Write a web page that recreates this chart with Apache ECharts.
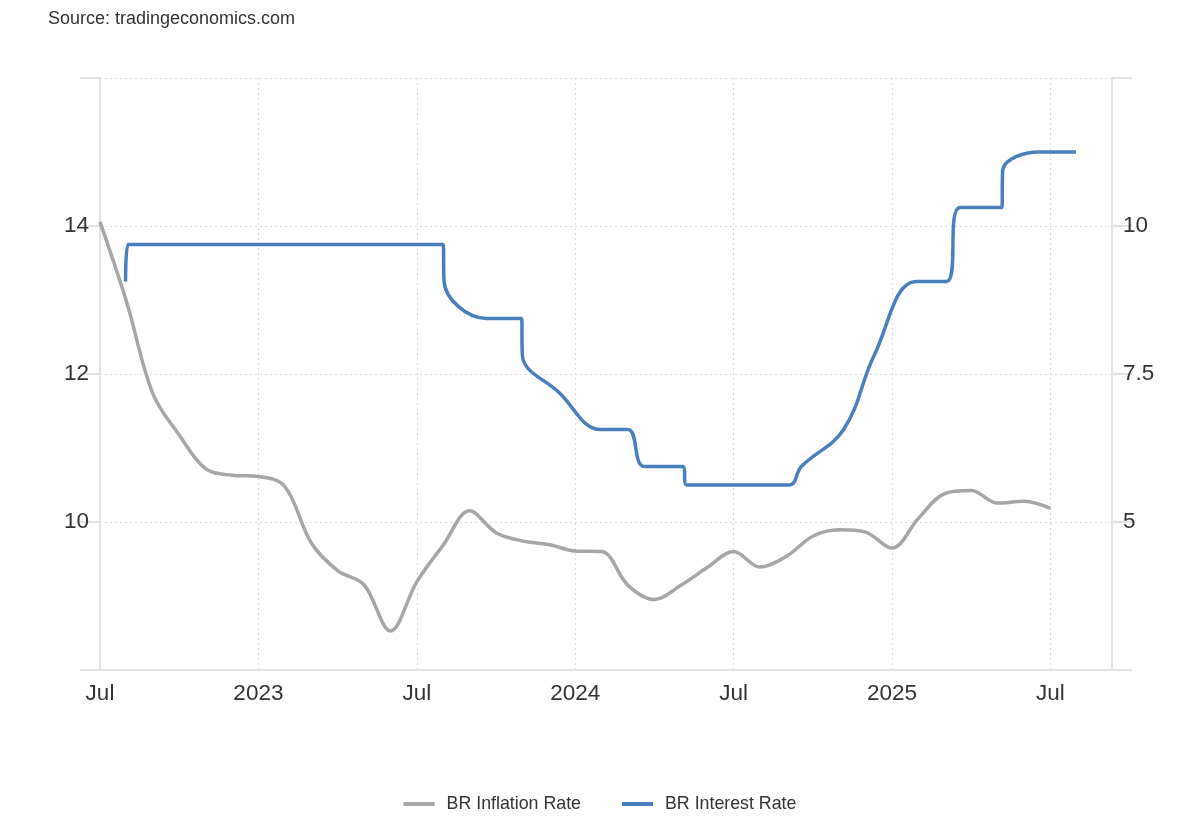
<!DOCTYPE html>
<html>
<head>
<meta charset="utf-8">
<script src="https://cdn.jsdelivr.net/npm/echarts@6/dist/echarts.min.js"></script>
<style>
html,body{margin:0;padding:0;background:#fff;}
#chart{width:1200px;height:820px;}
</style>
</head>
<body>
<div id="chart"></div>
<script>
// ---- Data ----
const inflationDates = ['2022-07-01','2022-08-01','2022-09-01','2022-10-01','2022-11-01','2022-12-01',
  '2023-01-01','2023-02-01','2023-03-01','2023-04-01','2023-05-01','2023-06-01',
  '2023-07-01','2023-08-01','2023-09-01','2023-10-01','2023-11-01','2023-12-01',
  '2024-01-01','2024-02-01','2024-03-01','2024-04-01','2024-05-01','2024-06-01',
  '2024-07-01','2024-08-01','2024-09-01','2024-10-01','2024-11-01','2024-12-01',
  '2025-01-01','2025-02-01','2025-03-01','2025-04-01','2025-05-01','2025-06-01','2025-07-01'];
const inflationValues = [10.07,8.73,7.17,6.47,5.90,5.79,
  5.77,5.60,4.65,4.18,3.94,3.16,
  3.99,4.61,5.19,4.82,4.68,4.62,
  4.51,4.50,3.93,3.69,3.93,4.23,
  4.50,4.24,4.42,4.76,4.87,4.83,
  4.56,5.06,5.48,5.53,5.32,5.35,5.23];

const rateDates = ['2022-07-31','2022-08-03','2023-08-01','2023-08-02','2023-09-20','2023-10-31',
  '2023-11-01','2023-12-13','2024-01-31','2024-03-01','2024-03-20','2024-05-03',
  '2024-05-08','2024-09-04','2024-09-18','2024-11-06','2024-12-11','2025-01-29',
  '2025-03-03','2025-03-19','2025-05-06','2025-05-07','2025-06-18','2025-07-31'];
const rateValues = [13.25,13.75,13.75,13.25,12.75,12.75,
  12.25,11.75,11.25,11.25,10.75,10.75,
  10.5,10.5,10.75,11.25,12.25,13.25,
  13.25,14.25,14.25,14.75,15,15];

const axisStart = '2022-07-01';
const axisEnd = '2025-09-11';
const leftTicks = [10, 12, 14];
const rightTicks = [5, 7.5, 10];
const monthNames = ['Jan','Feb','Mar','Apr','May','Jun','Jul','Aug','Sep','Oct','Nov','Dec'];

// x coordinate = months elapsed since axisStart (fractional by day)
const startParts = axisStart.split('-').map(Number);
function toMonths(s){
  const p = s.split('-').map(Number);
  const dim = new Date(p[0], p[1], 0).getDate();
  return (p[0]-startParts[0])*12 + (p[1]-startParts[1]) + (p[2]-1)/dim;
}
const inflationData = inflationDates.map((d,i)=>[toMonths(d), inflationValues[i]]);
const rateData = rateDates.map((d,i)=>[toMonths(d), rateValues[i]]);

const FONT = '"Liberation Sans", Arial, Helvetica, sans-serif';
const AXIS_COLOR = '#e2e2e2';

const chart = echarts.init(document.getElementById('chart'));
chart.setOption({
  animation: false,
  backgroundColor: '#fff',
  textStyle: { fontFamily: FONT },
  title: {
    text: 'Source: tradingeconomics.com',
    left: 48, top: 10, padding: 0,
    textStyle: { fontSize: 18, fontWeight: 'normal', color: '#333', fontFamily: FONT }
  },
  legend: {
    bottom: 2,
    left: 'center',
    icon: 'rect',
    itemWidth: 31,
    itemHeight: 4,
    itemGap: 41,
    textStyle: { fontSize: 17.8, color: '#333', fontFamily: FONT, padding: [0, 0, 0, 7] },
    data: ['BR Inflation Rate', 'BR Interest Rate']
  },
  grid: { left: 100, right: 88, top: 78, bottom: 150, containLabel: false },
  xAxis: {
    type: 'value',
    min: 0,
    max: toMonths(axisEnd),
    interval: 6,
    axisLine: { show: true, lineStyle: { color: AXIS_COLOR, width: 2 } },
    axisTick: { show: false },
    axisLabel: {
      fontSize: 22.5, color: '#333', margin: 12, fontFamily: FONT, hideOverlap: false,
      showMinLabel: true, showMaxLabel: true,
      formatter: function (val) {
        if (Math.abs(val - Math.round(val)) > 1e-6 || Math.round(val) % 6 !== 0) return '';
        const total = startParts[1] - 1 + Math.round(val);
        const year = startParts[0] + Math.floor(total / 12);
        const month = total % 12;
        return month === 0 ? String(year) : monthNames[month];
      }
    },
    splitLine: { show: true, lineStyle: { color: '#dcdcdc', type: [2, 3], width: 1 } }
  },
  yAxis: [
    {
      type: 'value', position: 'left', min: 8, max: 16, interval: 2,
      axisLine: { show: true, lineStyle: { color: AXIS_COLOR, width: 2 } },
      axisTick: { show: true, length: 20, lineStyle: { color: AXIS_COLOR, width: 2 } },
      axisLabel: {
        fontSize: 22.5, color: '#333', margin: 11, fontFamily: FONT,
        formatter: v => leftTicks.includes(v) ? String(v) : ''
      },
      splitLine: { show: true, lineStyle: { color: '#dcdcdc', type: [2, 3], width: 1 } }
    },
    {
      type: 'value', position: 'right', min: 2.5, max: 12.5, interval: 2.5,
      axisLine: { show: true, lineStyle: { color: AXIS_COLOR, width: 2 } },
      axisTick: { show: true, length: 20, lineStyle: { color: AXIS_COLOR, width: 2 } },
      axisLabel: {
        fontSize: 22.5, color: '#333', margin: 11, fontFamily: FONT,
        formatter: v => rightTicks.includes(v) ? String(v) : ''
      },
      splitLine: { show: false }
    }
  ],
  series: [
    {
      name: 'BR Inflation Rate', type: 'line', yAxisIndex: 1,
      data: inflationData, showSymbol: false, symbol: 'none',
      smooth: 0.35,
      lineStyle: { color: '#a6a6a6', width: 3.5 },
      itemStyle: { color: '#a6a6a6' },
      z: 2
    },
    {
      name: 'BR Interest Rate', type: 'line', yAxisIndex: 0,
      data: rateData, showSymbol: false, symbol: 'none',
      smooth: 0.4,
      lineStyle: { color: '#4a7fbd', width: 3.5 },
      itemStyle: { color: '#4a7fbd' },
      z: 3
    }
  ]
});
</script>
</body>
</html>
